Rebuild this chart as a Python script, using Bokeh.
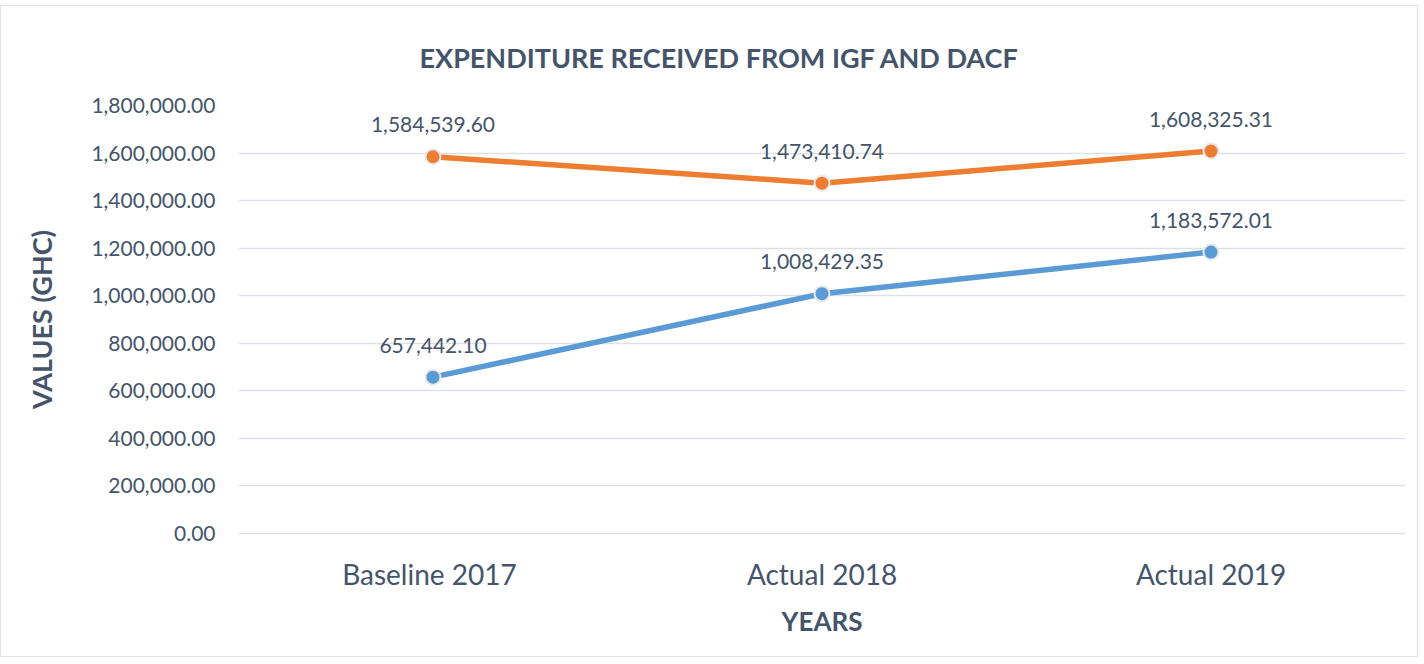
from bokeh.plotting import figure
from bokeh.models import ColumnDataSource, LabelSet, NumeralTickFormatter, FactorRange, Range1d
from bokeh.core.properties import value
from bokeh.embed import file_html
from bokeh.resources import INLINE

categories = ["Baseline  2017", "Actual 2018", "Actual 2019"]
series_orange = [1584539.60, 1473410.74, 1608325.31]
series_blue = [657442.10, 1008429.35, 1183572.01]
labels_orange = ["1,584,539.60", "1,473,410.74", "1,608,325.31"]
labels_blue = ["657,442.10", "1,008,429.35", "1,183,572.01"]
y_ticks = [0, 200000, 400000, 600000, 800000, 1000000, 1200000, 1400000, 1600000, 1800000]

FONT = "Lato"
TXT = "#44546A"
ORANGE = "#ED7D31"
BLUE = "#5B9BD5"
GRID = "#dde1e6"

p = figure(x_range=FactorRange(*categories), y_range=Range1d(0, 1800000),
           width=1418, height=652, output_backend="svg", toolbar_location=None,
           min_border_left=237, min_border_right=14, min_border_top=99, min_border_bottom=125)
p.styles = {"border": "1.5px solid #dfe3e8", "margin-top": "5px"}
p.outline_line_color = None
p.background_fill_color = "white"

p.title.text = "EXPENDITURE RECEIVED FROM IGF AND DACF"
p.title.text_font = FONT
p.title.text_font_size = "27px"
p.title.text_font_style = "bold"
p.title.text_color = TXT
p.title.align = "left"
p.title.offset = 181
p.title.standoff = 63

p.yaxis.ticker = y_ticks
p.yaxis.formatter = NumeralTickFormatter(format="0,0.00")
p.yaxis.axis_line_color = None
p.yaxis.major_tick_line_color = None
p.yaxis.minor_tick_line_color = None
p.yaxis.major_label_text_font = FONT
p.yaxis.major_label_text_font_size = "21px"
p.yaxis.major_label_text_color = TXT
p.yaxis.major_label_standoff = 17
p.yaxis.axis_label = "VALUES (GHC)"
p.yaxis.axis_label_text_font = FONT
p.yaxis.axis_label_text_font_size = "27px"
p.yaxis.axis_label_text_font_style = "bold"
p.yaxis.axis_label_text_color = TXT
p.yaxis.axis_label_standoff = 30

p.xaxis.axis_line_color = GRID
p.xaxis.axis_line_width = 1.5
p.xaxis.major_tick_line_color = None
p.xaxis.minor_tick_line_color = None
p.xaxis.major_label_text_font = FONT
p.xaxis.major_label_text_font_size = "28px"
p.xaxis.major_label_text_color = TXT
p.xaxis.major_label_standoff = 17
p.xaxis.axis_label = "YEARS"
p.xaxis.axis_label_text_font = FONT
p.xaxis.axis_label_text_font_size = "26px"
p.xaxis.axis_label_text_font_style = "bold"
p.xaxis.axis_label_text_color = TXT
p.xaxis.axis_label_standoff = 11

p.xgrid.grid_line_color = None
p.ygrid.grid_line_color = GRID
p.ygrid.grid_line_width = 1.5

src_o = ColumnDataSource(dict(x=categories, y=series_orange, t=labels_orange))
src_b = ColumnDataSource(dict(x=categories, y=series_blue, t=labels_blue))

for src, col in ((src_o, ORANGE), (src_b, BLUE)):
    p.line("x", "y", source=src, line_color=col, line_width=5.5)
    p.scatter("x", "y", source=src, size=15, fill_color=col, line_color="#e6e8eb", line_width=2)
    p.add_layout(LabelSet(x="x", y="y", text="t", source=src, y_offset=32,
                          text_align="center", text_baseline="middle",
                          text_font=value(FONT), text_font_size="21px", text_color=TXT))

open("out.html", "w").write(file_html(p, INLINE))
